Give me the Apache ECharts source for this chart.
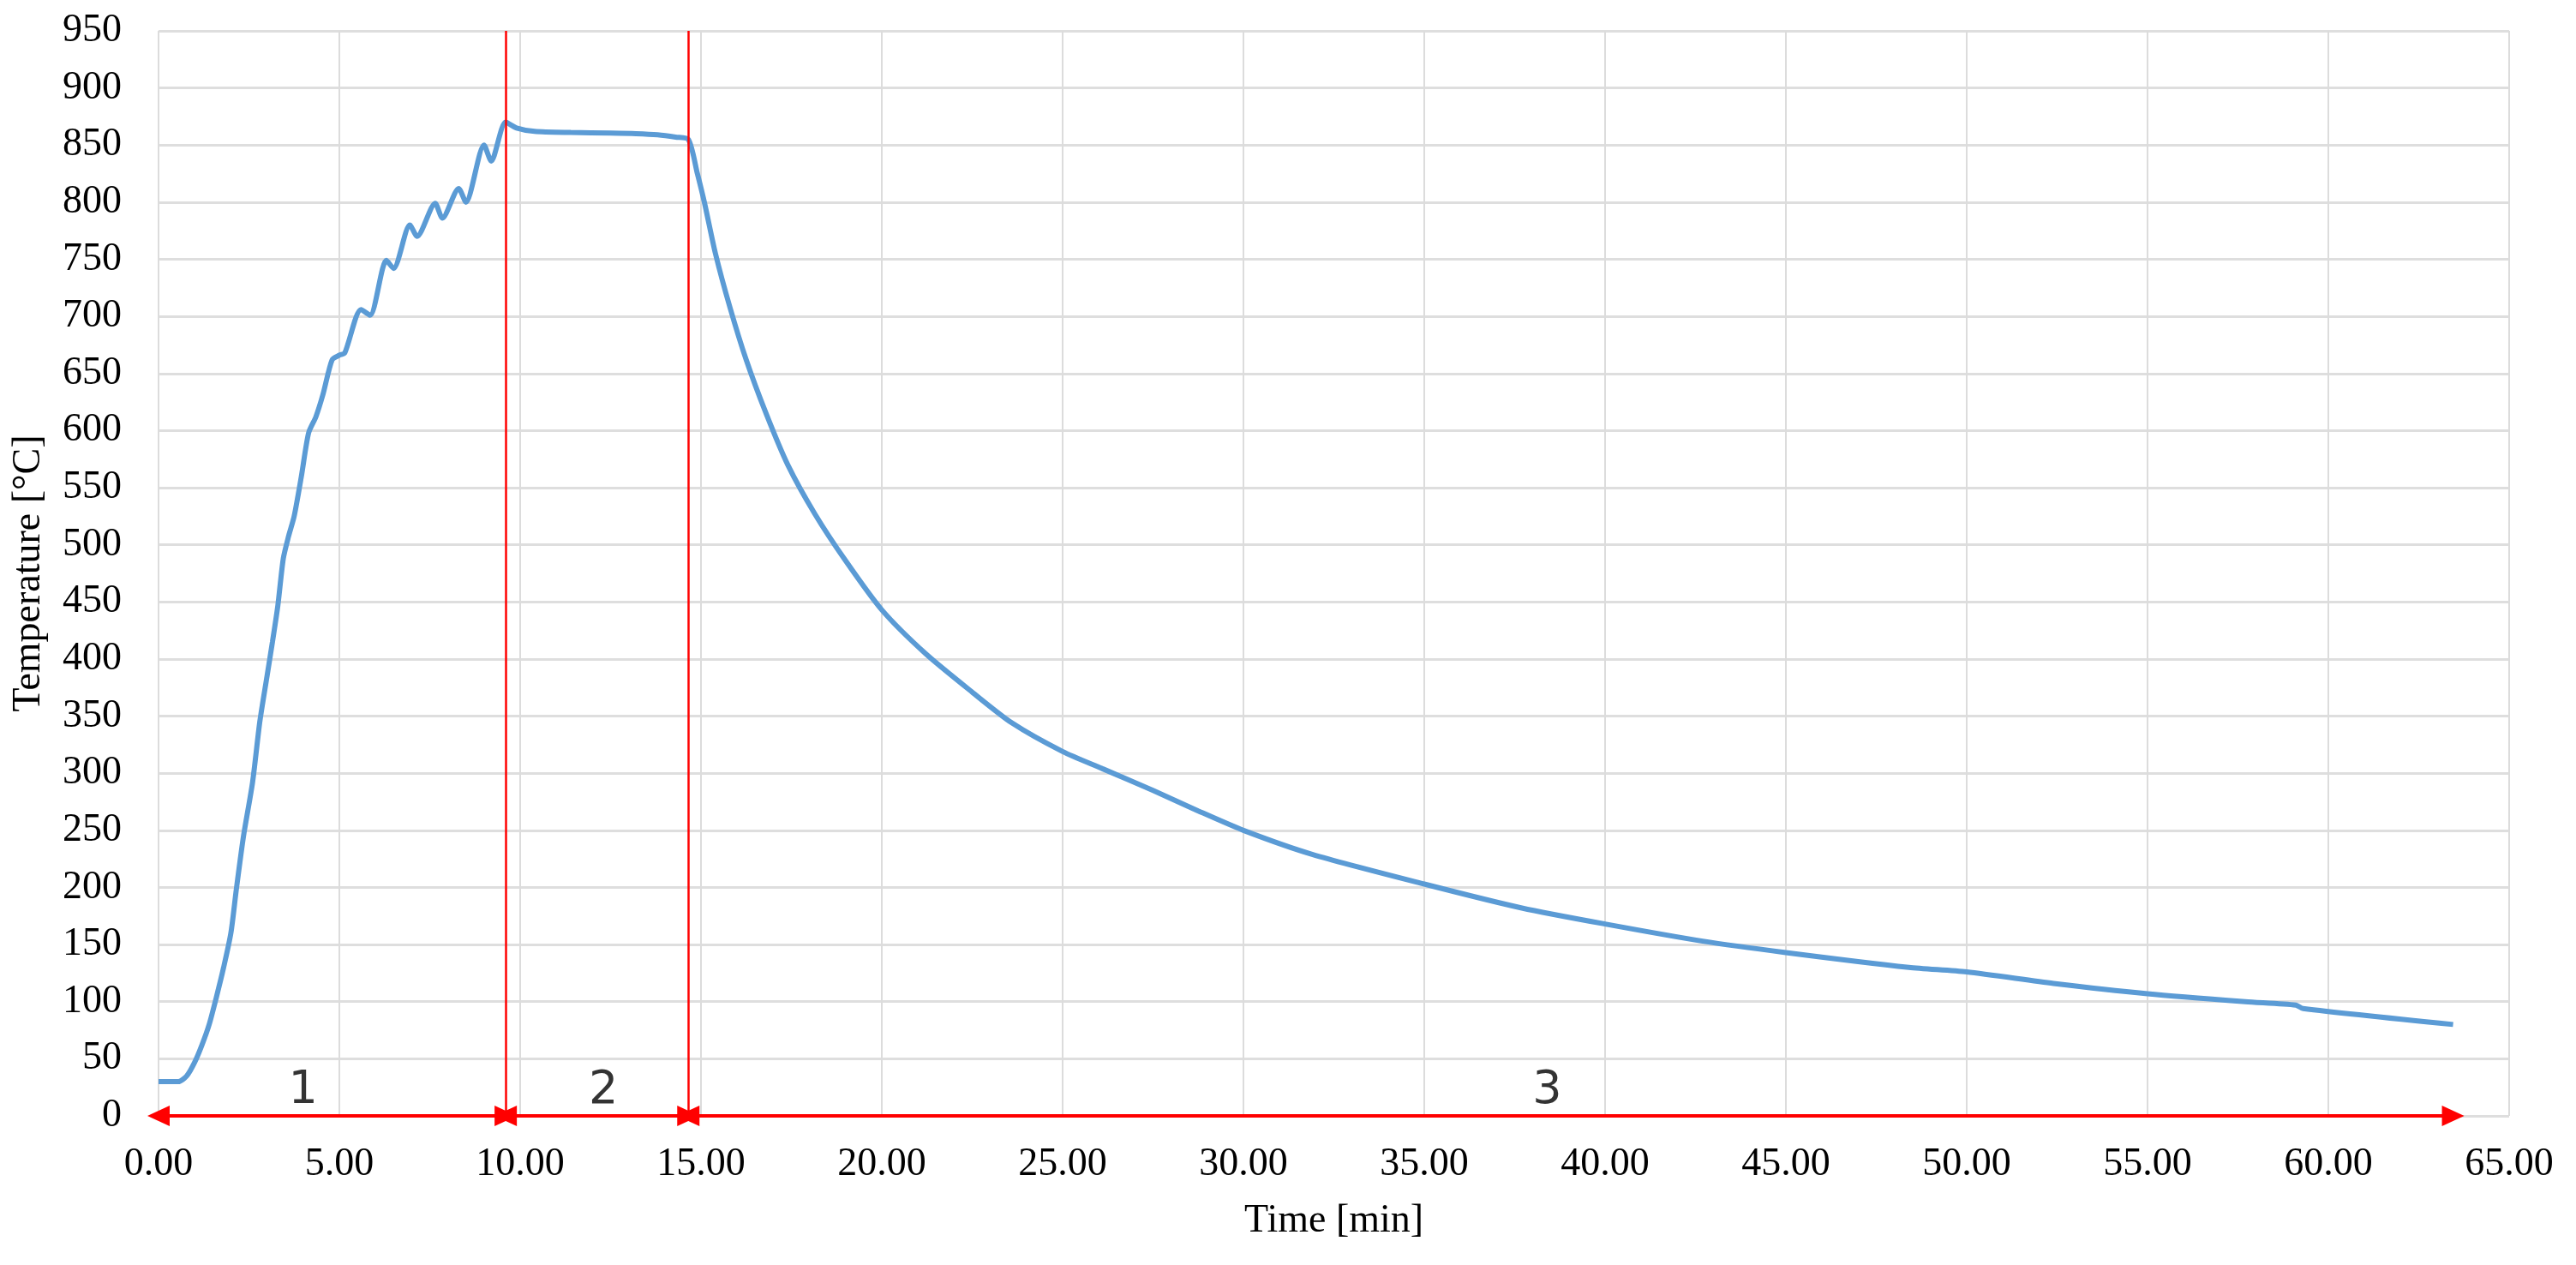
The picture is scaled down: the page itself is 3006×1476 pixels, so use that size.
<!DOCTYPE html>
<html>
<head>
<meta charset="utf-8">
<title>Temperature vs time</title>
<script src="https://cdn.jsdelivr.net/npm/echarts@6/dist/echarts.min.js"></script>
<style>
  html, body { margin: 0; padding: 0; background: #fff; }
  #chart { width: 3006px; height: 1476px; }
</style>
</head>
<body>
<div id="chart"></div>
<script>
  // time [min] and temperature [°C]
  var timeMin = [0, 0.3, 0.55, 0.78, 1.0, 1.2, 1.4, 1.6, 1.8, 2.0, 2.15, 2.35, 2.6, 2.8, 3.0, 3.15, 3.3, 3.45, 3.6, 3.75,
    3.95, 4.15, 4.35, 4.55, 4.8, 5.0, 5.15, 5.6, 5.85, 6.3, 6.5, 6.95, 7.15, 7.65, 7.85, 8.3, 8.5, 9.0, 9.2, 9.6,
    9.9, 10.4, 11.4, 12.5, 13.2, 13.8, 14.3, 14.65, 14.9, 15.1, 15.4, 15.8, 16.25, 16.8, 17.4, 18.15, 19.0, 20.0,
    21.2, 22.5, 23.6, 25.0, 26.1, 27.5, 28.75, 30.0, 31.9, 35.0, 37.7, 40.0, 42.7, 45.0, 48.4, 50.0, 52.4, 55.0,
    57.7, 59.1, 59.3, 63.45];
  var tempC = [30, 30, 30, 35, 47, 62, 80, 104, 130, 160, 198, 245, 292, 345, 385, 415, 447, 488, 508, 525,
    560, 598, 612, 632, 662, 666, 668, 706, 701, 749, 742, 780, 770, 799, 786, 812, 800, 850, 836, 870,
    865, 862, 861, 860.5, 860, 859, 857, 855, 825, 799, 755, 708, 662, 615, 570, 527, 486, 443,
    405, 371, 344, 319, 304, 285, 267, 250, 229, 203, 182, 168, 153, 143, 130, 126, 116, 107,
    100, 97, 94, 80];

  // phase boundaries and labels
  var phaseBounds = [0, 9.6, 14.65, 63.45];
  var phaseNames = ['1', '2', '3'];
  var phaseLabelX = [4.0, 12.3, 38.4];

  var serif = 'Liberation Serif';

  var curve = timeMin.map(function (t, i) { return [t, tempC[i]]; });

  var arrowData = [];
  for (var i = 0; i < phaseBounds.length - 1; i++) {
    arrowData.push([{ coord: [phaseBounds[i], 0] }, { coord: [phaseBounds[i + 1], 0] }]);
  }
  var dividerData = phaseBounds.slice(1, 3).map(function (x) { return { xAxis: x }; });
  var labelData = phaseNames.map(function (n, i) { return { name: n, value: [phaseLabelX[i], 0] }; });

  var option = {
    animation: false,
    grid: { left: 185, right: 78, top: 36, bottom: 174, containLabel: false },
    xAxis: {
      type: 'value',
      min: 0,
      max: 65,
      interval: 5,
      name: 'Time [min]',
      nameLocation: 'middle',
      nameGap: 100,
      nameTextStyle: { fontFamily: serif, fontSize: 46, color: '#000' },
      axisLine: { show: false },
      axisTick: { show: false },
      axisLabel: {
        fontFamily: serif, fontSize: 46, color: '#000', margin: 34,
        formatter: function (v) { return v.toFixed(2); }
      },
      splitLine: { show: true, lineStyle: { color: '#dcdcdc', width: 2 } }
    },
    yAxis: {
      type: 'value',
      min: 0,
      max: 950,
      interval: 50,
      name: 'Temperature [°C]',
      nameLocation: 'middle',
      nameGap: 128,
      nameTextStyle: { fontFamily: serif, fontSize: 46, color: '#000' },
      axisLine: { show: false },
      axisTick: { show: false },
      axisLabel: { fontFamily: serif, fontSize: 46, color: '#000', margin: 43 },
      splitLine: { show: true, lineStyle: { color: '#dedede', width: 3 } }
    },
    series: [
      {
        name: 'Temperature',
        type: 'line',
        data: curve,
        showSymbol: false,
        smooth: 0.25,
        lineStyle: { color: '#5b9bd5', width: 6 },
        z: 3
      },
      {
        // phase dividers
        type: 'line',
        data: [],
        markLine: {
          silent: true,
          symbol: 'none',
          label: { show: false },
          lineStyle: { color: '#ff0000', width: 2.5, type: 'solid' },
          data: dividerData
        },
        z: 4
      },
      {
        // double headed arrows along the time axis
        type: 'line',
        data: [],
        markLine: {
          silent: true,
          symbol: ['triangle', 'triangle'],
          symbolSize: [24, 26],
          label: { show: false },
          lineStyle: { color: '#ff0000', width: 4, type: 'solid' },
          data: arrowData
        },
        z: 4
      },
      {
        type: 'scatter',
        data: labelData,
        symbolSize: 0,
        silent: true,
        label: {
          show: true,
          position: 'top',
          distance: 2,
          formatter: '{b}',
          fontFamily: 'DejaVu Sans',
          fontSize: 54,
          color: '#000'
        },
        z: 5
      }
    ]
  };

  var chart = echarts.init(document.getElementById('chart'));
  chart.setOption(option);
  window.addEventListener('resize', function () { chart.resize(); });
</script>
</body>
</html>
